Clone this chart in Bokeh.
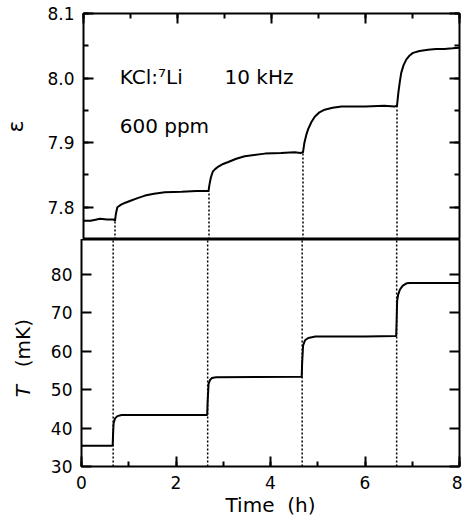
from bokeh.plotting import figure
from bokeh.layouts import column, row
from bokeh.models import (Range1d, LinearAxis, SingleIntervalTicker, PrintfTickFormatter,
                          CustomJSTickFormatter, Label)
from bokeh.embed import file_html
from bokeh.resources import INLINE
import math

# ---------------- data ----------------
eps_time = [0.00, 0.15, 0.28, 0.35, 0.50, 0.64, 0.67, 0.69, 0.72, 0.80, 0.89, 1.00, 1.15, 1.31,
            1.50, 1.73, 2.09, 2.40, 2.66, 2.68, 2.71, 2.75, 2.80, 2.87, 2.97, 3.08, 3.25, 3.43,
            3.86, 4.20, 4.49, 4.62, 4.67, 4.70, 4.74, 4.78, 4.85, 4.92, 5.02, 5.13, 5.30, 5.49,
            6.00, 6.40, 6.62, 6.67, 6.70, 6.73, 6.76, 6.81, 6.87, 6.94, 7.01, 7.15, 7.33, 7.50,
            7.68, 7.85, 8.00]
eps_value = [7.779, 7.779, 7.781, 7.782, 7.781, 7.781, 7.779, 7.790, 7.800, 7.804, 7.807, 7.810,
             7.814, 7.818, 7.821, 7.823, 7.824, 7.825, 7.825, 7.835, 7.846, 7.855, 7.859, 7.863,
             7.867, 7.870, 7.875, 7.879, 7.883, 7.884, 7.885, 7.884, 7.885, 7.900, 7.912, 7.921,
             7.932, 7.940, 7.947, 7.951, 7.954, 7.956, 7.956, 7.957, 7.956, 7.957, 7.978, 7.994,
             8.008, 8.020, 8.029, 8.035, 8.039, 8.042, 8.044, 8.045, 8.045, 8.046, 8.047]

temp_time = [0.00, 0.64, 0.66, 0.67, 0.68, 0.71, 0.76, 0.85, 1.20, 2.66, 2.67, 2.69, 2.72, 2.76,
             2.85, 4.66, 4.67, 4.69, 4.73, 4.80, 4.95, 6.00, 6.66, 6.67, 6.68, 6.70, 6.74, 6.80,
             6.88, 6.95, 8.00]
temp_value = [35.4, 35.4, 35.5, 39.0, 41.3, 42.5, 43.1, 43.4, 43.4, 43.4, 47.0, 51.5, 52.5, 53.0,
              53.2, 53.3, 57.0, 61.5, 62.8, 63.4, 63.8, 63.8, 63.9, 68.0, 73.0, 74.6, 76.0, 77.0,
              77.6, 77.7, 77.7]

step_time = [0.67, 2.67, 4.67, 6.67]
step_eps = [7.779, 7.825, 7.885, 7.957]

eps_range = (7.75, 8.1)
temp_range = (30, 89)
time_range = (0, 8)

FONT = "DejaVu Sans"


def style_axis(ax, show_labels=True):
    ax.axis_line_color = None
    ax.major_tick_in = 10
    ax.major_tick_out = 0
    ax.minor_tick_in = 5
    ax.minor_tick_out = 0
    ax.major_tick_line_width = 2
    ax.minor_tick_line_width = 2
    ax.major_tick_line_color = "black"
    ax.minor_tick_line_color = "black"
    ax.major_label_text_font = FONT
    ax.major_label_text_font_size = "17px"
    ax.major_label_text_color = "black"
    ax.axis_label_text_font = FONT
    ax.axis_label_text_font_style = "normal"
    ax.axis_label_text_color = "black"
    ax.axis_label_text_font_size = "20px"
    if not show_labels:
        ax.formatter = CustomJSTickFormatter(code="return ''")
        ax.major_label_standoff = 0
        ax.major_label_text_font_size = "1px"


def base_fig(width, height, yr, left, top, bottom):
    p = figure(width=width, height=height, x_range=Range1d(*time_range), y_range=Range1d(*yr),
               output_backend="svg", toolbar_location=None,
               min_border_left=left, min_border_right=3, min_border_top=top,
               min_border_bottom=bottom, x_axis_location=None, y_axis_location=None)
    p.xgrid.visible = False
    p.ygrid.visible = False
    p.outline_line_color = "black"
    p.outline_line_width = 2
    p.background_fill_color = "white"
    p.border_fill_color = "white"
    return p


# ---------------- top panel: epsilon ----------------
p1 = base_fig(462, 239, eps_range, 81, 13, 0)
eps_ticker = SingleIntervalTicker(interval=0.1, num_minor_ticks=2)
time_ticker = SingleIntervalTicker(interval=2, num_minor_ticks=2)

ax = LinearAxis(ticker=eps_ticker, formatter=PrintfTickFormatter(format="%.1f"), axis_label="ε")
style_axis(ax)
ax.major_label_standoff = 9
ax.axis_label_standoff = 16
ax.axis_label_text_font_size = "22px"
p1.add_layout(ax, "left")
ax = LinearAxis(ticker=eps_ticker)
style_axis(ax, show_labels=False)
p1.add_layout(ax, "right")
ax = LinearAxis(ticker=time_ticker)
style_axis(ax, show_labels=False)
p1.add_layout(ax, "above")

p1.segment(x0=step_time, y0=[eps_range[0]] * len(step_time), x1=step_time, y1=step_eps,
           line_color="black", line_width=1.5, line_dash="2 2")
p1.line(eps_time, eps_value, line_color="black", line_width=2)

p1.add_layout(Label(x=0.77, y=8.002, text="KCl:⁷Li", text_font=FONT, text_font_size="20px",
                    text_baseline="alphabetic", text_color="black"))
p1.add_layout(Label(x=3.0, y=8.002, text="10 kHz", text_font=FONT, text_font_size="20px",
                    text_baseline="alphabetic", text_color="black"))
p1.add_layout(Label(x=0.77, y=7.926, text="600 ppm", text_font=FONT, text_font_size="20px",
                    text_baseline="alphabetic", text_color="black"))

# ---------------- bottom panel: temperature ----------------
TITLE_W = 40
p2 = base_fig(462 - TITLE_W, 284, temp_range, 81 - TITLE_W, 0, 57)
temp_ticker = SingleIntervalTicker(interval=10, num_minor_ticks=0)

ax = LinearAxis(ticker=temp_ticker)
style_axis(ax)
ax.major_label_standoff = 9
p2.add_layout(ax, "left")
ax = LinearAxis(ticker=temp_ticker)
style_axis(ax, show_labels=False)
p2.add_layout(ax, "right")
ax = LinearAxis(ticker=time_ticker, axis_label="Time\u00a0\u00a0(h)")
style_axis(ax)
ax.major_label_standoff = 9
ax.axis_label_standoff = 1
p2.add_layout(ax, "below")

p2.segment(x0=step_time, y0=[temp_range[0]] * len(step_time), x1=step_time,
           y1=[temp_range[1]] * len(step_time),
           line_color="black", line_width=1.5, line_dash="2 2")
p2.line(temp_time, temp_value, line_color="black", line_width=2)

# narrow strip holding the rotated y title "T (mK)" (T in italics)
pt = figure(width=TITLE_W, height=284, x_range=Range1d(0, 1), y_range=Range1d(*temp_range),
            output_backend="svg", toolbar_location=None,
            min_border_left=0, min_border_right=0, min_border_top=0, min_border_bottom=57,
            x_axis_location=None, y_axis_location=None)
pt.xgrid.visible = False
pt.ygrid.visible = False
pt.outline_line_color = None
pt.add_layout(Label(x=22, y=48.0, x_units="screen", angle=math.pi / 2,
                    text="T", text_font=FONT, text_font_size="20px", text_font_style="italic",
                    text_baseline="middle", text_align="left", text_color="black"))
pt.add_layout(Label(x=22, y=55.8, x_units="screen", angle=math.pi / 2,
                    text="(mK)", text_font=FONT, text_font_size="20px",
                    text_baseline="middle", text_align="left", text_color="black"))

layout = column(p1, row(pt, p2, spacing=0), spacing=0)
open("out.html", "w").write(file_html(layout, INLINE))
